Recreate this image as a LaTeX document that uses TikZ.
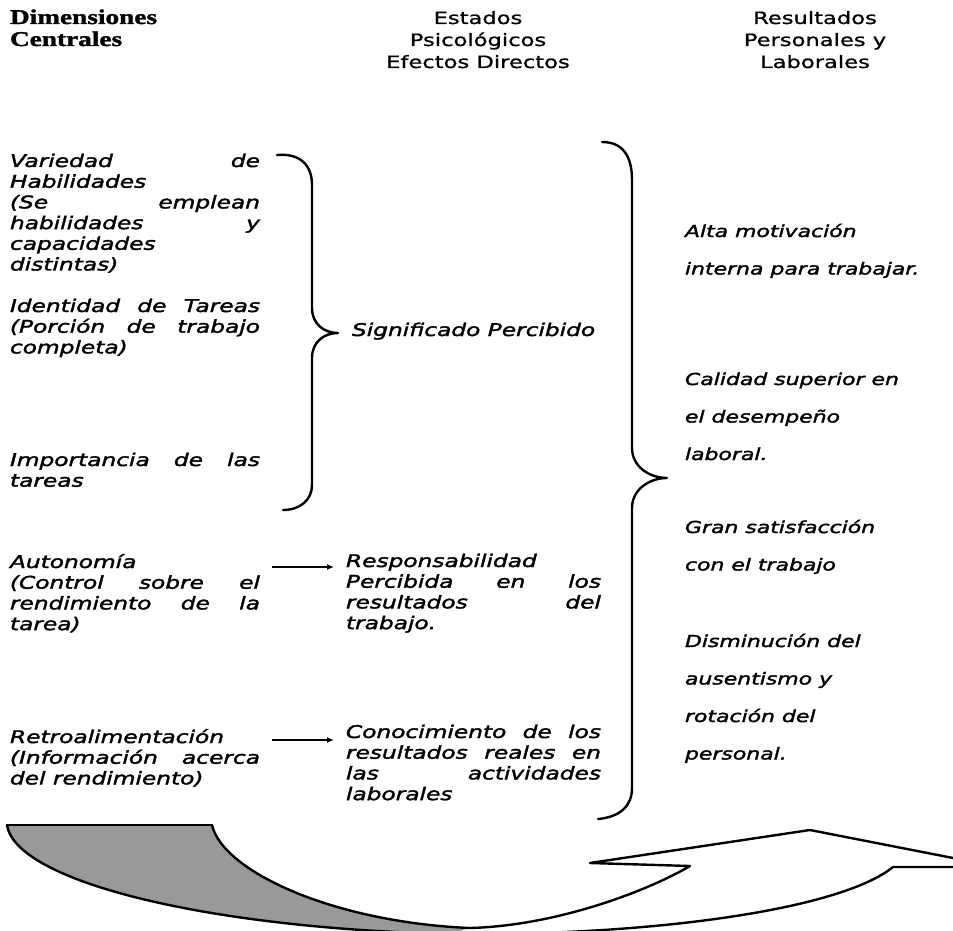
\documentclass[tikz,border=0pt]{standalone}
\usepackage{fontspec}
\setmainfont{DejaVu Sans}[FakeStretch=1.33, FakeBold=2]
\newfontfamily\hdrsans{DejaVu Sans}[FakeStretch=1.33, FakeBold=1]
\newfontfamily\hdrserif{Liberation Serif}[FakeStretch=1.3, FakeBold=1.5]
\usetikzlibrary{arrows.meta}
\newlength{\lw}\setlength{\lw}{250pt}
\newlength{\mw}\setlength{\mw}{255pt}
\newcommand{\jl}[2]{\makebox[#1][s]{#2}}
\tikzset{
  txt/.style={anchor=base west, inner sep=0pt, outer sep=0pt},
  hdr/.style={anchor=base, inner sep=0pt, outer sep=0pt},
  brace/.style={line width=2.4pt, line cap=round, line join=round},
  link/.style={line width=1.4pt, -{Latex[length=7pt,width=6pt]}},
  band/.style={line width=2.4pt, line join=round, line cap=round},
}
\newcommand{\body}{\fontsize{17.5}{20.7}\selectfont\itshape}
\newcommand{\rbody}{\fontsize{16.5}{37.5}\selectfont\itshape}
\begin{document}
\begin{tikzpicture}[x=1pt,y=-1pt]
\useasboundingbox (0,0) rectangle (953,931);
\fill[white] (0,0) rectangle (953,931);
\begin{scope}
\clip (0,0) rectangle (953,931);

% headers
\node[txt] (hdrL) at (10,24) {\parbox[t]{220pt}{\hdrserif\bfseries\fontsize{21}{22}\selectfont Dimensiones\\Centrales}};
\node[hdr] (hdrM) at (478,24) {\parbox[t]{260pt}{\centering\hdrsans\fontsize{17}{22}\selectfont Estados\\Psicológicos\\Efectos Directos}};
\node[hdr] (hdrR) at (815,24) {\parbox[t]{260pt}{\centering\hdrsans\fontsize{17}{22}\selectfont Resultados\\Personales y\\Laborales}};

% left column
\node[txt] (l1) at (10,167) {\parbox[t]{\lw}{\body
\jl{\lw}{Variedad de}\\
Habilidades\\
\jl{\lw}{(Se emplean}\\
\jl{\lw}{habilidades y}\\
capacidades\\
distintas)}};
\node[txt] (l2) at (10,312) {\parbox[t]{\lw}{\body
\jl{\lw}{Identidad de Tareas}\\
\jl{\lw}{(Porción de trabajo}\\
completa)}};
\node[txt] (l3) at (10,466) {\parbox[t]{\lw}{\body
\jl{\lw}{Importancia de las}\\
tareas}};
\node[txt] (l4) at (10,568) {\parbox[t]{\lw}{\body
Autonomía\\
\jl{\lw}{(Control sobre el}\\
\jl{\lw}{rendimiento de la}\\
tarea)}};
\node[txt] (l5) at (10,743) {\parbox[t]{\lw}{\body
Retroalimentación\\
\jl{\lw}{(Información acerca}\\
del rendimiento)}};

% middle column
\node[txt] (m1) at (352,336) {\parbox[t]{\mw}{\body Significado Percibido}};
\node[txt] (m2) at (346,567) {\parbox[t]{\mw}{\body
Responsabilidad\\
\jl{\mw}{Percibida en los}\\
\jl{\mw}{resultados del}\\
trabajo.}};
\node[txt] (m3) at (346,738) {\parbox[t]{\mw}{\body
\jl{\mw}{Conocimiento de los}\\
\jl{\mw}{resultados reales en}\\
\jl{\mw}{las actividades}\\
laborales}};

% right column
\node[txt] (r1) at (685,237) {\parbox[t]{260pt}{\rbody Alta motivación\\interna para trabajar.}};
\node[txt] (r2) at (685,385) {\parbox[t]{260pt}{\rbody Calidad superior en\\el desempeño\\laboral.}};
\node[txt] (r3) at (685,533) {\parbox[t]{260pt}{\rbody Gran satisfacción\\con el trabajo}};
\node[txt] (r4) at (685,647) {\parbox[t]{260pt}{\rbody Disminución del\\ausentismo y\\rotación del\\personal.}};

% braces
\draw[brace] (277,155) .. controls (300,153) and (312,165) .. (312,185)
  -- (312,308) .. controls (312,324) and (324,333) .. (338,333)
  .. controls (324,333) and (312,342) .. (312,358)
  -- (312,485) .. controls (312,500) and (300,510) .. (283,510);
\draw[brace] (602,142) .. controls (622,142) and (632,155) .. (632,180)
  -- (632,448) .. controls (632,467) and (650,478) .. (667,478)
  .. controls (650,478) and (632,489) .. (632,508)
  -- (632,788) .. controls (632,806) and (620,817) .. (598,819);

% arrows
\coordinate (a1s) at (272,567);
\coordinate (a1e) at (334,567);
\coordinate (a2s) at (272,740);
\coordinate (a2e) at (334,740);
\draw[link] (a1s) -- (a1e);
\draw[link] (a2s) -- (a2e);

% bottom curved arrow
\fill[black!40] (7,825) -- (212,825)
  .. controls (222,870) and (330,922) .. (470,928)
  -- (450,934) .. controls (200,928) and (15,880) .. (7,825) -- cycle;
\draw[band] (7,825) -- (212,825);
\draw[band] (212,825) .. controls (222,870) and (330,922) .. (470,928)
  .. controls (550,926) and (640,895) .. (690,866)
  -- (590,863) -- (810,830) -- (999,867) -- (893,867)
  .. controls (840,910) and (650,936) .. (450,934)
  .. controls (200,928) and (15,880) .. (7,825);
\end{scope}
\end{tikzpicture}
\end{document}
